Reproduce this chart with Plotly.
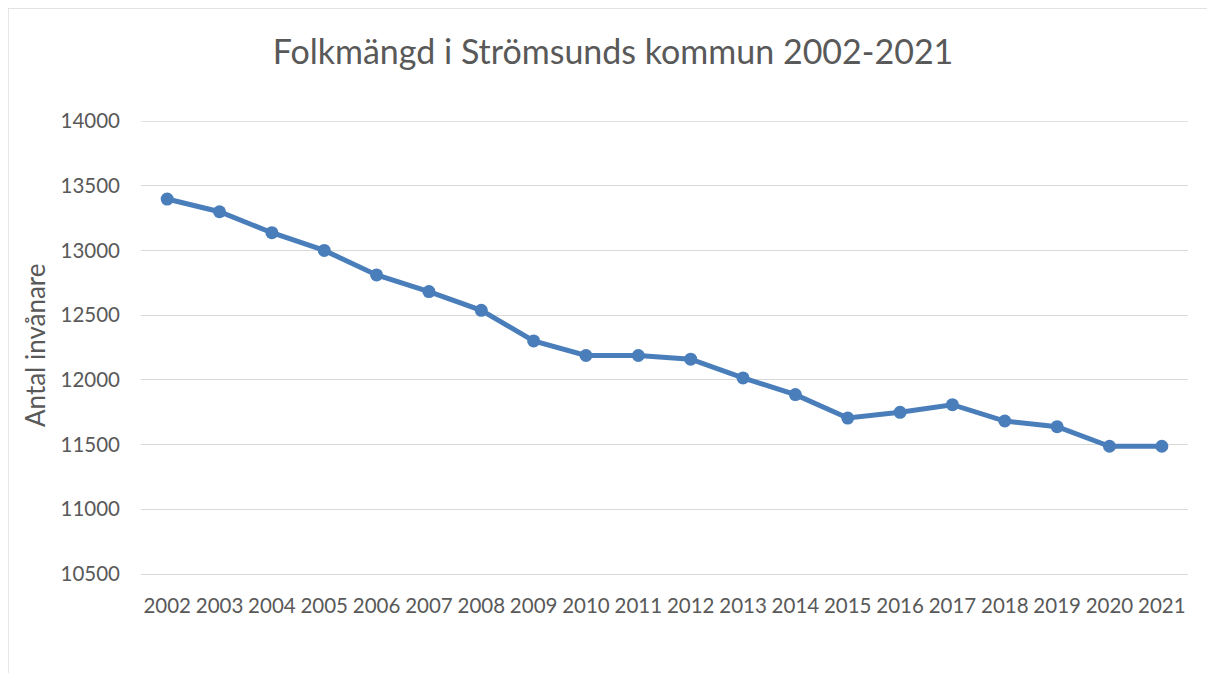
import plotly.graph_objects as go

years = [str(y) for y in range(2002, 2022)]
population = [13397, 13299, 13137, 13000, 12811, 12682, 12537, 12301, 12188, 12188,
              12160, 12015, 11886, 11705, 11749, 11808, 11682, 11638, 11487, 11487]
y_ticks = [10500, 11000, 11500, 12000, 12500, 13000, 13500, 14000]
y_ticktext = [str(v) for v in y_ticks]

# page body has an 8px margin; draw figure so it lands on the reference pixels
OFF = 8
W, H = 1215 - OFF, 673 - OFF
L, R, T, B = 141 - OFF, 1215 - 1188, 121 - OFF, 673 - 574
pw, ph = W - L - R, H - T - B

def px_x(p):
    return (p - OFF - L) / pw

def px_y(p):
    return (H - B - (p - OFF)) / ph

FONT = "Lato, Open Sans, sans-serif"
GRAY = "#595959"
GRID = "#D9D9D9"

fig = go.Figure()
fig.add_trace(go.Scatter(
    x=years, y=population, mode="lines+markers",
    line=dict(color="#4A7EBB", width=5),
    marker=dict(color="#4A7EBB", size=13),
    showlegend=False, hoverinfo="x+y",
))

fig.update_layout(
    width=W, height=H,
    margin=dict(l=L, r=R, t=T, b=B, autoexpand=False),
    paper_bgcolor="white", plot_bgcolor="white",
    font=dict(family=FONT, color=GRAY),
    title=dict(text="Folkmängd i Strömsunds kommun 2002-2021",
               x=px_x(613), xref="paper", xanchor="center",
               y=1 - (52 - OFF) / H, yanchor="middle",
               font=dict(size=34, color=GRAY, family=FONT)),
    xaxis=dict(type="category", range=[-0.5, len(years) - 0.5],
               showgrid=False, showline=True, linecolor=GRID,
               linewidth=1.3, ticks="", automargin=False, ticklabelstandoff=13,
               tickangle=0, tickfont=dict(size=20.5, color=GRAY), zeroline=False),
    yaxis=dict(range=[10500, 14000], tickvals=y_ticks, ticktext=y_ticktext,
               showgrid=True, gridcolor=GRID, gridwidth=1.3, zeroline=False,
               showline=False, ticks="", automargin=False, ticklabelstandoff=20,
               tickfont=dict(size=20.5, color=GRAY)),
    annotations=[dict(text="Antal invånare", textangle=-90, showarrow=False,
                      xref="paper", yref="paper", x=px_x(35), y=px_y(345),
                      xanchor="center", yanchor="middle",
                      font=dict(size=26, color=GRAY, family=FONT))],
    shapes=[
        dict(type="rect", xref="paper", yref="paper",
             x0=px_x(8), x1=px_x(1240), y0=px_y(700), y1=px_y(8),
             line=dict(color=GRID, width=1.3), layer="below"),
        dict(type="line", xref="paper", yref="y", x0=0, x1=1,
             y0=y_ticks[-1], y1=y_ticks[-1],
             line=dict(color=GRID, width=1.3), layer="below"),
    ],
)

fig.write_html("out.html")
